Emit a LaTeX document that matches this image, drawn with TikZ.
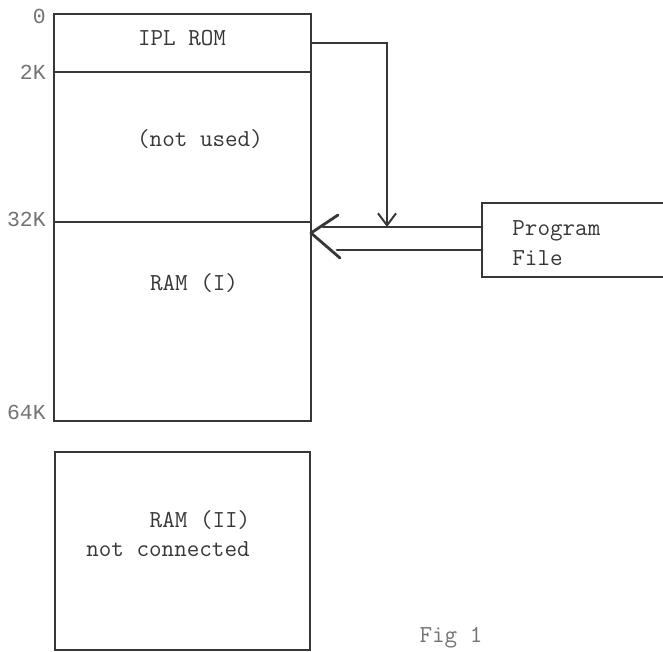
\documentclass[tikz,border=0pt]{standalone}
\usepackage{fontspec}
\newfontfamily\addrfont{Liberation Mono}
\usetikzlibrary{arrows.meta,calc,positioning}
\definecolor{ink}{RGB}{55,55,55}
\definecolor{faint}{RGB}{115,115,115}

\begin{document}
\begin{tikzpicture}[x=0.5pt,y=-0.5pt,>={Straight Barb[length=6pt,width=9pt]}]
\tikzset{
  region/.style={draw=ink,line width=1pt,minimum width=128.5pt,inner sep=0pt,outer sep=0pt},
  memtext/.style={text=ink,font=\ttfamily\fontsize{12.2}{15}\selectfont,inner sep=0pt},
  addr/.style={text=faint,font=\addrfont\fontsize{10.7}{13}\selectfont,inner sep=0pt,anchor=east},
  wire/.style={draw=ink,line width=1pt},
  fat/.style={draw=ink,line width=1.4pt,line cap=round,line join=round}
}
\useasboundingbox (0,0) rectangle (663,652);
% memory map
\node[region,minimum height=29pt] (rom) at (182.5,43) {};
\node[region,minimum height=75pt] (unused) at (182.5,147) {};
\node[region,minimum height=99.5pt] (ram1) at (182.5,321.5) {};
\node[region,minimum width=127.5pt,minimum height=99pt] (ram2) at (182.5,551) {};
\node[region,minimum width=109pt,minimum height=37pt] (pf) at (591,240) {};
\node[memtext] (romtxt) at (182,38) {IPL ROM};
\node[memtext] (unusedtxt) at (200,139) {(not used)};
\node[memtext] (ram1txt) at (194,283) {RAM (I)};
\node[memtext] (ram2txt) at (200,520) {RAM (II)};
\node[memtext] (nctxt) at (168,549) {not connected};
\node[memtext,anchor=west,align=left] (pftxt) at (512,243) {Program\\File};
\node[memtext,text=faint] (fig) at (451,638) {Fig 1};
% addresses
\node[addr] (a0) at (46,16) {0};
\node[addr] (a2) at (46,72) {2K};
\node[addr] (a32) at (46,219) {32K};
\node[addr] (a64) at (46,412) {64K};
% loader path
\coordinate (drop) at (387,227);
\draw[wire,->] (rom.east) -| (drop);
% load into RAM
\coordinate (tip) at ($(ram1.north east)+(0,11)$);
\coordinate (armup) at (338,215);
\coordinate (armdn) at (340,258);
\coordinate (upin) at (323,227);
\coordinate (lowin) at (337,250);
\draw[fat] (armup) -- (tip) -- (armdn);
\draw[fat] (pf.west |- upin) -- (upin);
\draw[fat] (pf.west |- lowin) -- (lowin);
\end{tikzpicture}
\end{document}
